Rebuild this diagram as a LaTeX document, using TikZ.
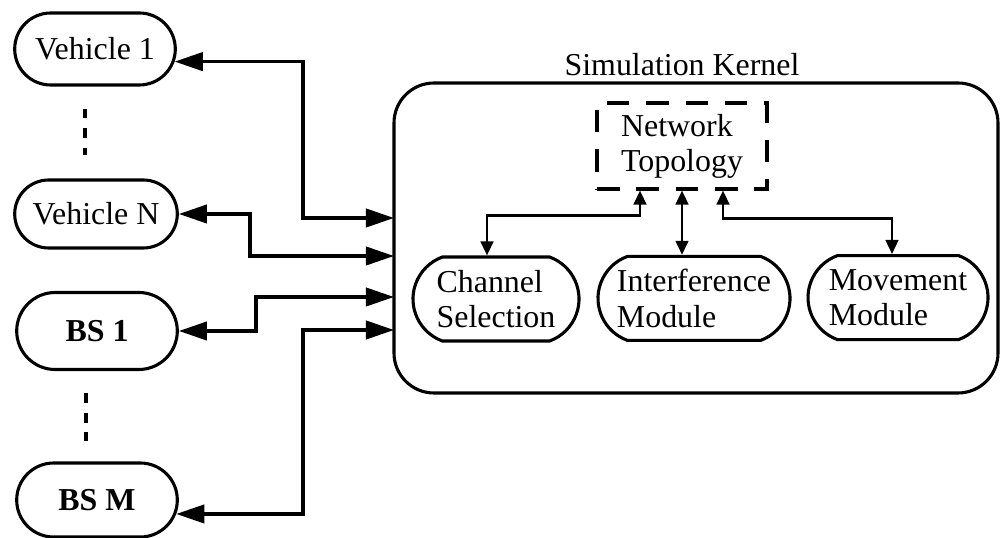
\documentclass[tikz,border=0pt]{standalone}
\usepackage{fontspec}
\setmainfont{Liberation Serif}
\usetikzlibrary{shapes.misc,arrows.meta}

\newcommand{\simfont}{\fontsize{22.7pt}{25pt}\selectfont}

\begin{document}
\begin{tikzpicture}
        \tikzstyle{sim_end}    = [shape = rounded rectangle, draw = black, line width=2.2pt, minimum width=4.25cm, minimum height=1.85cm, font=\simfont]
        \tikzstyle{sim_module} = [shape = rounded rectangle, rounded rectangle arc length=140, draw = black, line width=2.2pt, minimum height=2.1cm, inner xsep=0pt, align=left, font=\simfont]
        \tikzstyle{sim_topo}   = [shape = rectangle, draw = black, line width=2.2pt, dash pattern=on 16pt off 12pt, minimum width=4.25cm, minimum height=2.15cm, align=left, font=\simfont]
        \tikzstyle{sim_kernel} = [shape = rectangle, draw = black, line width=2.2pt, rounded corners=1cm, minimum width=15.1cm, minimum height=7.75cm]
        \tikzstyle{sim_link}   = [<->, >={Triangle[length=20pt,width=13pt]}, line width=2.4pt]
        \tikzstyle{sim_ilink}  = [<->, >={Triangle[length=10pt,width=9pt]}, line width=1.8pt]
        \tikzstyle{sim_dots}   = [line width=2.8pt, dash pattern=on 7pt off 7pt]

        \useasboundingbox (0, 0) rectangle (25.05, 13.45);

        \node[sim_end, minimum height=1.8cm]                    at (2.375, 12.225) (v1)  {Vehicle 1};
        \node[sim_end, minimum height=1.7cm, minimum width=4.3cm] at (2.4,    8.1)   (vN)  {Vehicle N};
        \node[sim_end, minimum height=1.925cm]                  at (2.425,  5.175) (bs1) {\textbf{BS 1}};
        \node[sim_end]                                          at (2.425,  0.95)  (bsM) {\textbf{BS M}};

        \node[sim_kernel]                    at (17.4,  7.5)   (kernel) {};
        \node[anchor=base, font=\simfont]    at (17.05, 11.55) (title)  {Simulation Kernel};

        \node[sim_topo]                      at (17.05, 9.8)   (net)  {Network\\Topology};
        \node[sim_module, minimum width=4.15cm] at (12.4,  5.975) (chan) {Channel\\Selection};
        \node[sim_module, minimum width=4.8cm]  at (17.35, 5.99)  (intf) {Interference\\Module};
        \node[sim_module, minimum width=4.5cm]  at (22.45, 6.01)  (move) {Movement\\Module};

        \coordinate (k1) at (9.85, 8.0);
        \coordinate (k2) at (9.85, 7.05);
        \coordinate (k3) at (9.85, 6.025);
        \coordinate (k4) at (9.85, 5.2);

        \coordinate (n1) at ([xshift=-1.05cm]net.south);
        \coordinate (n2) at (net.south);
        \coordinate (n3) at ([xshift=1.025cm]net.south);

        \draw[sim_link] (v1.-9)   -| (7.575, 8.0)   -- (k1);
        \draw[sim_link] (vN.east) -| (6.25,  7.05)  -- (k2);
        \draw[sim_link] (bs1.east) -| (6.4,  6.025) -- (k3);
        \draw[sim_link] (bsM.-10) -| (7.575, 5.2)   -- (k4);

        \draw[sim_ilink] (n1) -- ++(0, -0.625) -| ([xshift=-0.225cm]chan.north);
        \draw[sim_ilink] (n2) -- (n2 |- intf.north);
        \draw[sim_ilink] (n3) -- ++(0, -0.7)   -| ([xshift=-0.15cm]move.north);

        \draw[sim_dots] ([xshift=-0.25cm,  yshift=-0.55cm]v1.south)  -- ([xshift=-0.275cm, yshift=0.575cm]vN.north);
        \draw[sim_dots] ([xshift=-0.275cm, yshift=-0.55cm]bs1.south) -- ([xshift=-0.275cm, yshift=0.5cm]bsM.north);
\end{tikzpicture}
\end{document}
